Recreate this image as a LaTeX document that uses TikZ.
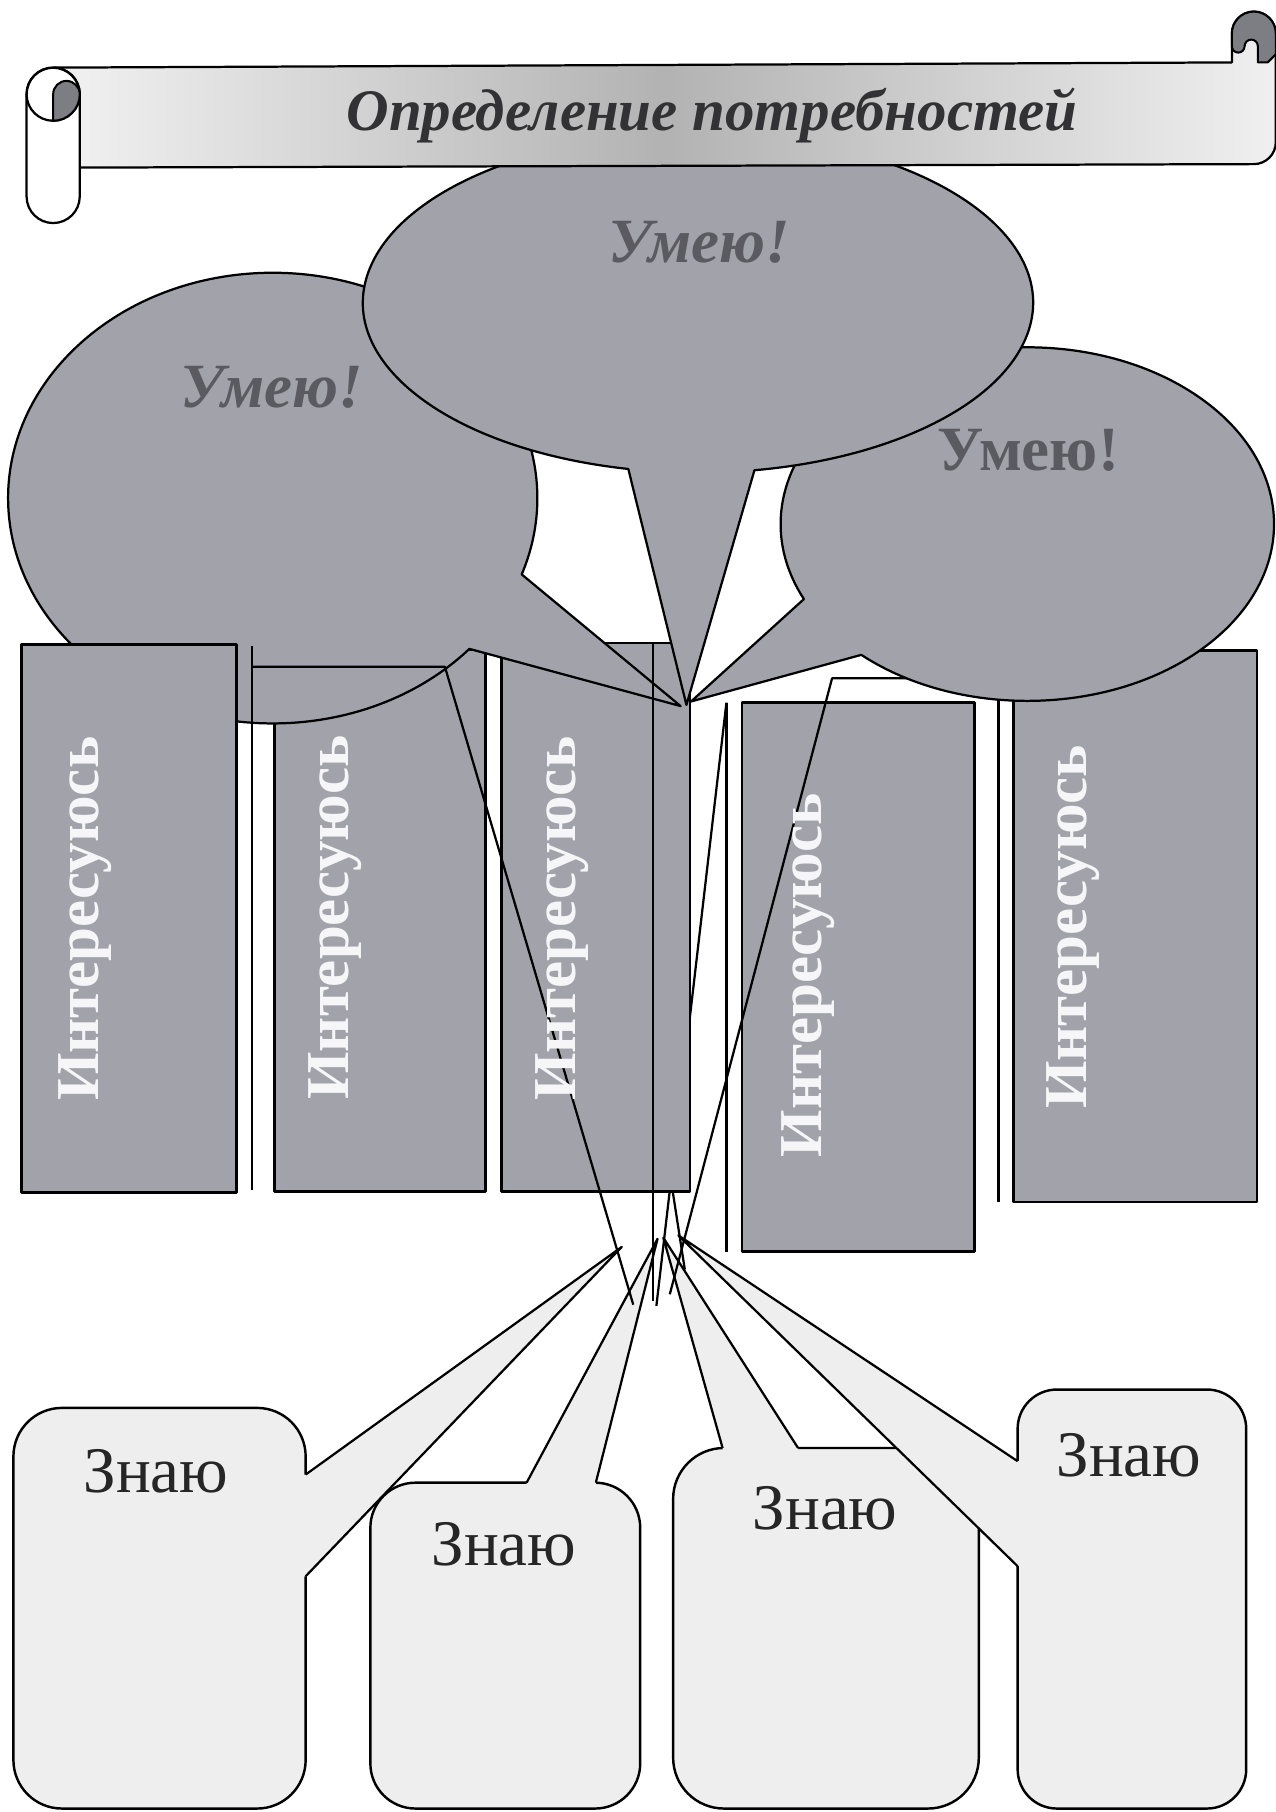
\documentclass[tikz,border=0pt]{standalone}
\usepackage{fontspec}
\setmainfont{Liberation Serif}
\usetikzlibrary{calc}
\definecolor{bubblegray}{RGB}{162,162,170}
\definecolor{boxgray}{RGB}{162,162,170}
\definecolor{umtext}{RGB}{90,90,96}
\definecolor{znfill}{RGB}{238,238,238}
\definecolor{titletext}{RGB}{50,50,52}
\definecolor{curlgray}{RGB}{125,125,132}
\definecolor{itext}{RGB}{246,246,248}
\tikzset{
  ln/.style={draw=black, line width=0.55pt},
  bubble/.style={fill=bubblegray, draw=black, line width=0.55pt},
  ibox/.style={fill=boxgray, draw=black, line width=0.6pt},
  zbox/.style={fill=znfill, draw=black, line width=0.6pt},
  zfill/.style={fill=znfill, draw=none},
  umit/.style={text=umtext, font=\fontsize{15.5}{17}\selectfont\bfseries\itshape},
  umup/.style={text=umtext, font=\fontsize{15.5}{17}\selectfont\bfseries},
  itxt/.style={text=itext, font=\fontsize{15}{16}\selectfont\bfseries, rotate=90},
  ztxt/.style={text=black!85, font=\fontsize{16}{18}\selectfont},
  ttl/.style={text=titletext, font=\fontsize{14.5}{16}\selectfont\bfseries\itshape},
  banner/.style={draw=black, line width=0.55pt, left color=black!5, right color=black!6, middle color=black!30},
  curl/.style={fill=curlgray, draw=black, line width=0.5pt}
}
\begin{document}
\begin{tikzpicture}[x=0.01cm, y=-0.01cm, line join=round]
\useasboundingbox (0,0) rectangle (1104,1568);
\fill[white] (0,0) rectangle (1104,1568);

% ---------- Znayu callouts ----------
\coordinate (zt1) at (538,1079);
\coordinate (zt2) at (569,1072);
\coordinate (zt3) at (574,1071);
\coordinate (zt4) at (587,1069);
% Z3
\draw[zbox, rounded corners=4.4mm] (582.5,1253) rectangle (847,1565);
\fill[zfill] (625.3,1253) -- (zt3) -- (690.6,1253) -- (690.6,1262) -- (625.3,1262) -- cycle;
\draw[ln] (625.3,1253) -- (zt3) -- (690.6,1253);
% Z4
\draw[zbox, rounded corners=3.4mm] (880.6,1202.4) rectangle (1078.4,1565);
\fill[zfill] (880.6,1264.4) -- (zt4) -- (880.6,1355.3) -- (889,1355.3) -- (889,1264.4) -- cycle;
\draw[ln] (880.6,1264.4) -- (zt4) -- (880.6,1355.3);
% Z2
\draw[zbox, rounded corners=3.9mm] (320.5,1283) rectangle (554,1565);
\fill[zfill] (455.7,1283) -- (zt2) -- (515.6,1283) -- (515.6,1292) -- (455.7,1292) -- cycle;
\draw[ln] (455.7,1283) -- (zt2) -- (515.6,1283);
% Z1
\draw[zbox, rounded corners=4.2mm] (11.6,1218.3) rectangle (264.5,1565);
\fill[zfill] (264.5,1276) -- (zt1) -- (264.5,1364) -- (256,1364) -- (256,1276) -- cycle;
\draw[ln] (264.5,1276) -- (zt1) -- (264.5,1364);

% ---------- lines partly hidden behind boxes ----------
\draw[ln] (628.6,608) -- (568,1130);
\draw[ln] (575,985) -- (592.6,1098.6);
\draw[ln] (864,600) -- (864,1040);

% ---------- Interesuyus boxes (behind bubbles) ----------
\draw[ibox] (877,563) rectangle (1087.6,1040);
\draw[ibox] (434,556.5) rectangle (597,1031);
\draw[ibox] (237.5,562) rectangle (420,1031);
\draw[ibox] (642,607.8) rectangle (843.4,1083);
\draw[ln] (850,587) -- (720,587) -- (579.6,1120);
\draw[ln] (628.6,608) -- (628.6,1083);

% ---------- Umeyu bubbles ----------
\coordinate (lc) at (236,431);
\coordinate (ltip) at (589,611);
\filldraw[bubble] ($(lc)+(19.8:229 and 195)$) -- (ltip) -- ($(lc)+(42:229 and 195)$)
  arc[start angle=42, end angle=379.8, x radius=229, y radius=195] -- cycle;
\coordinate (rc) at (889,453.5);
\coordinate (rtip) at (598,607);
\filldraw[bubble] ($(rc)+(154.9:213.5 and 153)$) -- (rtip) -- ($(rc)+(132.3:213.5 and 153)$)
  arc[start angle=132.3, end angle=-205.1, x radius=213.5, y radius=153] -- cycle;
\coordinate (mc) at (604,262);
\coordinate (mtip) at (594,610);
\filldraw[bubble] ($(mc)+(80.3:290 and 147)$) -- (mtip) -- ($(mc)+(102:290 and 147)$)
  arc[start angle=102, end angle=440.3, x radius=290, y radius=147] -- cycle;

% ---------- banner (horizontal scroll) ----------
\shadedraw[banner] (46,58.5) -- (1066,54) -- (1066,29)
  arc[start angle=180, end angle=360, radius=19] -- (1104,123)
  arc[start angle=0, end angle=90, radius=19] -- (69,145) -- (46,145) -- cycle;
\filldraw[curl] (1066,29) arc[start angle=180, end angle=360, radius=19] -- (1104,47) -- (1097,54)
  -- (1088.5,54) -- (1088.5,40) arc[start angle=0, end angle=-180, radius=5.75]
  arc[start angle=0, end angle=180, radius=5.5] -- cycle;
\filldraw[fill=white, ln] (23,81.5) arc[start angle=180, end angle=360, radius=23] -- (69,170)
  arc[start angle=0, end angle=180, radius=23] -- cycle;
\draw[ln] (46,81.5) circle[radius=23];
\filldraw[curl] (46,81.5) -- (46,104.5) arc[start angle=90, end angle=0, radius=23]
  arc[start angle=0, end angle=-180, radius=11.5] -- cycle;

% ---------- box 1 (over left bubble) ----------
\draw[ibox] (18.5,557.6) rectangle (204.7,1031.8);

% ---------- lines over everything ----------
\draw[ln] (218,559) -- (218,1030);
\draw[ln] (218,577) -- (385,577) -- (548,1129);
\draw[ln] (565,556.5) -- (565,1126);

% ---------- texts ----------
\node[ttl] (title) at (616,100) {Определение потребностей};
\node[umit] (u1) at (235,335) {Умею!};
\node[umit] (u2) at (605,210) {Умею!};
\node[umup] (u3) at (890,390) {Умею!};
\node[itxt] (i1) at (74,795) {Интересуюсь};
\node[itxt] (i2) at (290,794) {Интересуюсь};
\node[itxt] (i3) at (486,795) {Интересуюсь};
\node[itxt] (i4) at (699,844) {Интересуюсь};
\node[itxt] (i5) at (929,802) {Интересуюсь};
\node[ztxt] (z1) at (135,1273) {Знаю};
\node[ztxt] (z2) at (436,1336) {Знаю};
\node[ztxt] (z3) at (714,1305) {Знаю};
\node[ztxt] (z4) at (977,1259) {Знаю};
\end{tikzpicture}
\end{document}
